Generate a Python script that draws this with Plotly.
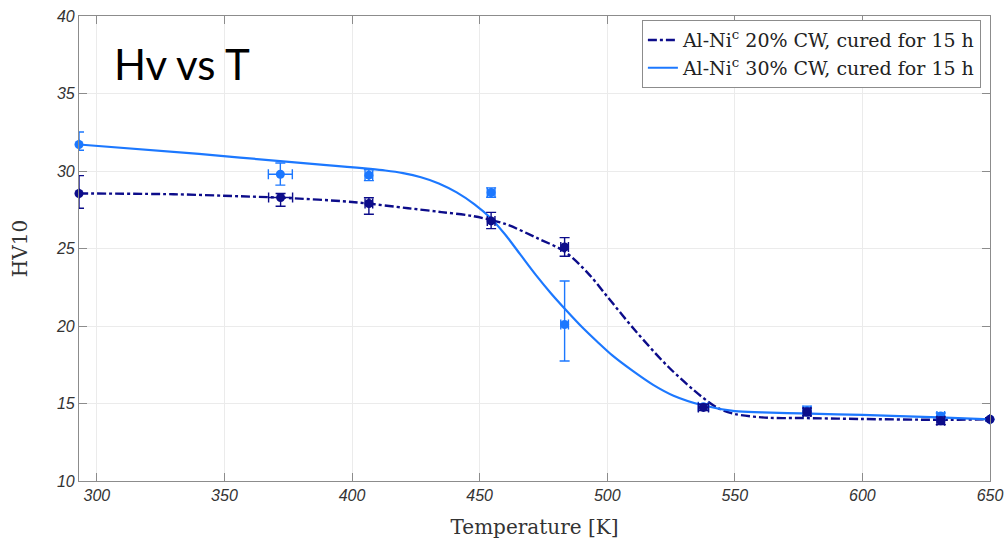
import plotly.graph_objects as go

# ---- measured points (markers with error bars) ----
t_20 = [293, 372, 406.6, 454.5, 483.3, 537.7, 578.3, 630.7, 650]
hv_20 = [28.55, 28.29, 27.9, 26.78, 25.1, 14.75, 14.45, 13.89, 13.98]
hv_20_err_up = [1.15, 0.26, 0.37, 0.55, 0.6, 0.2, 0.25, 0.25, 0.1]
hv_20_err_dn = [0.95, 0.56, 0.69, 0.5, 0.6, 0.2, 0.25, 0.25, 0.1]
t_20_err = [0, 4.7, 1.5, 1.5, 1.5, 2.0, 1.5, 1.5, 0]

t_30 = [293, 371.9, 406.6, 454.5, 483.3, 537.7, 578.3, 630.7, 650]
hv_30 = [31.71, 29.79, 29.73, 28.61, 20.1, 14.79, 14.53, 14.19, 13.98]
hv_30_err_up = [0.81, 0.73, 0.35, 0.3, 2.8, 0.2, 0.3, 0.2, 0.1]
hv_30_err_dn = [0.37, 0.7, 0.35, 0.3, 2.36, 0.2, 0.3, 0.2, 0.1]
t_30_err = [0, 4.7, 1.5, 1.5, 1.5, 2.0, 1.5, 1.5, 0]

# ---- fitted curves ----
fit20_t = [293, 330, 356, 372, 400, 422, 435, 447, 459.7, 472.8, 483.3, 492.5,
           500, 510.8, 523.9, 537, 543.6, 550, 563, 576, 600, 630, 650]
fit20_hv = [28.55, 28.5, 28.37, 28.28, 28.0, 27.6, 27.35, 27.1, 26.6, 25.65, 24.8, 23.4,
            21.9, 19.74, 17.37, 15.44, 14.69, 14.32, 14.08, 14.06, 14.0, 13.95, 13.98]

fit30_t = [293, 340, 379.8, 390, 398, 406, 413, 420, 427, 434, 441, 448, 454.5, 460, 466, 472,
           478, 484, 490, 496, 502, 510, 518, 526, 537, 550, 560.6, 576, 600, 630, 650]
fit30_hv = [31.71, 31.1, 30.52, 30.38, 30.27, 30.15, 30.03, 29.86, 29.6, 29.2, 28.62, 27.85, 26.94,
            25.9, 24.6, 23.3, 22.1, 21.0, 19.95, 19.0, 18.1, 17.1, 16.2, 15.5, 14.9, 14.51, 14.43,
            14.36, 14.26, 14.1, 13.98]

legend_names = ["Al-Ni<sup>c</sup> 20% CW, cured for 15 h",
                "Al-Ni<sup>c</sup> 30% CW, cured for 15 h"]

x_ticks = [300, 350, 400, 450, 500, 550, 600, 650]
y_ticks = [10, 15, 20, 25, 30, 35, 40]

DARK = "#0c0c8a"
LIGHT = "#1c78ff"
SERIF = "DejaVu Serif, Liberation Serif"

fig = go.Figure()

fig.add_trace(go.Scatter(
    x=fit20_t, y=fit20_hv, mode="lines", name=legend_names[0],
    line=dict(color=DARK, width=2.4, dash="dashdot", shape="spline", smoothing=0.9),
))
fig.add_trace(go.Scatter(
    x=fit30_t, y=fit30_hv, mode="lines", name=legend_names[1],
    line=dict(color=LIGHT, width=2.2, shape="spline", smoothing=0.9),
))

fig.add_trace(go.Scatter(
    x=t_30, y=hv_30, mode="markers", showlegend=False, cliponaxis=False,
    marker=dict(color=LIGHT, size=9),
    error_y=dict(type="data", array=hv_30_err_up, arrayminus=hv_30_err_dn,
                 color=LIGHT, thickness=1.4, width=5),
    error_x=dict(type="data", array=t_30_err, color=LIGHT, thickness=1.4, width=5),
))
fig.add_trace(go.Scatter(
    x=t_20, y=hv_20, mode="markers", showlegend=False, cliponaxis=False,
    marker=dict(color=DARK, size=9),
    error_y=dict(type="data", array=hv_20_err_up, arrayminus=hv_20_err_dn,
                 color=DARK, thickness=1.4, width=5),
    error_x=dict(type="data", array=t_20_err, color=DARK, thickness=1.4, width=5),
))

axis_common = dict(
    showgrid=True, gridcolor="#ebebeb", gridwidth=1,
    showline=True, linecolor="#8c8c8c", linewidth=1.2, mirror="ticks",
    ticks="inside", ticklen=8, tickcolor="#8c8c8c", tickwidth=1,
    zeroline=False, automargin=False,
    tickfont=dict(family="Liberation Sans, Arial", size=16, color="#333333", style="italic"),
)

fig.update_xaxes(
    range=[293, 650], tickvals=x_ticks, ticktext=[str(v) for v in x_ticks],
    title=dict(text="Temperature [K]", font=dict(family=SERIF, size=20, color="#333333"),
               standoff=16),
    **axis_common,
)
fig.update_yaxes(
    range=[10, 40], tickvals=y_ticks, ticktext=[str(v) for v in y_ticks],
    title=dict(text="HV10", font=dict(family=SERIF, size=20, color="#333333"),
               standoff=22),
    **axis_common,
)

fig.add_annotation(
    text="Hv vs T", xref="paper", yref="paper", x=0.036, y=0.896,
    xanchor="left", yanchor="middle", showarrow=False,
    font=dict(family="Lato, Open Sans", size=42, color="black"),
)

fig.update_layout(
    width=1004, height=544,
    margin=dict(l=79, r=14, t=16, b=63),
    paper_bgcolor="white", plot_bgcolor="white",
    showlegend=True,
    legend=dict(
        x=0.99, y=0.991, xanchor="right", yanchor="top",
        bgcolor="white", bordercolor="#8c8c8c", borderwidth=1,
        font=dict(family=SERIF, size=19, color="#222222"),
        itemwidth=30, tracegroupgap=0,
    ),
)

fig.write_html("out.html")
